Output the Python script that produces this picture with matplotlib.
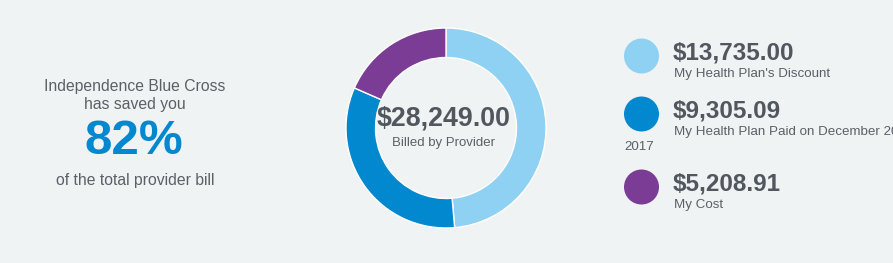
import matplotlib
matplotlib.use("Agg")
import matplotlib.pyplot as plt
from matplotlib.patches import Circle

plt.rcParams['font.family'] = ['Liberation Sans', 'DejaVu Sans']

# Data
labels = ["My Health Plan's Discount", "My Health Plan Paid on December 20, 2017", "My Cost"]
values = [13735.00, 9305.09, 5208.91]
colors = ["#8fd1f3", "#0288ce", "#7b3c96"]
total = 28249.00
saved_pct = 82
value_texts = ["$13,735.00", "$9,305.09", "$5,208.91"]

BG = "#f0f3f4"
DARK = "#51575e"
GREY = "#5b6066"

fig = plt.figure(figsize=(8.93, 2.63), dpi=100, facecolor=BG)

# overlay axes in pixel coords
ov = fig.add_axes([0, 0, 1, 1])
ov.set_xlim(0, 893)
ov.set_ylim(263, 0)
ov.axis('off')
ov.set_facecolor(BG)

# Left text block
ov.text(135, 87, "Independence Blue Cross", ha='center', va='center', fontsize=11.3, color=GREY)
ov.text(135, 104, "has saved you", ha='center', va='center', fontsize=11.3, color=GREY)
ov.text(134, 142, f"{saved_pct}%", ha='center', va='center', fontsize=35.5, fontweight='bold', color="#0288ce")
ov.text(135, 181, "of the total provider bill", ha='center', va='center', fontsize=11.3, color=GREY)

# Donut
cx, cy, r = 446, 128, 101
dax = fig.add_axes([(cx - r) / 893, (263 - cy - r) / 263, 2 * r / 893, 2 * r / 263])
dax.pie(values, colors=colors, startangle=90, counterclock=False, radius=1,
        wedgeprops=dict(width=0.295, edgecolor='white', linewidth=1.0))
dax.set_xlim(-1.01, 1.01)
dax.set_ylim(-1.01, 1.01)
dax.set_facecolor('none')

ov2 = fig.add_axes([0, 0, 1, 1])
ov2.set_xlim(0, 893)
ov2.set_ylim(263, 0)
ov2.axis('off')
ov2.patch.set_alpha(0)
ov2.text(444, 118, f"${total:,.2f}", ha='center', va='center', fontsize=19.3, fontweight='bold', color=DARK)
ov2.text(444, 143, "Billed by Provider", ha='center', va='center', fontsize=9.5, color=GREY)

# Legend
ys = [56, 114, 187]
for y, c, vt, lab in zip(ys, colors, value_texts, labels):
    ov2.add_patch(Circle((641.5, y), 17.5, color=c, lw=0))
    ov2.text(673, y - 3, vt, ha='left', va='center', fontsize=17.5, fontweight='bold', color=DARK)
    if lab.startswith("My Health Plan Paid"):
        ov2.text(674, y + 18, "My Health Plan Paid on December 20,", ha='left', va='center', fontsize=9.6, color=GREY)
        ov2.text(624, y + 33, "2017", ha='left', va='center', fontsize=9.6, color=GREY)
    else:
        ov2.text(674, y + 18, lab, ha='left', va='center', fontsize=9.6, color=GREY)

fig.savefig("out.png", dpi=100, facecolor=BG)
